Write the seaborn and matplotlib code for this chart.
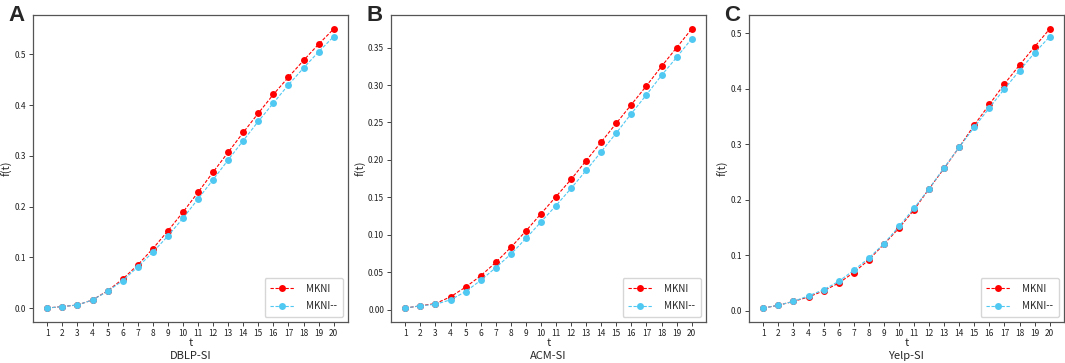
import numpy as np
import pandas as pd
import matplotlib.pyplot as plt
import seaborn as sns

t = list(range(1, 21))

# DBLP-SI
dblp_mkni = [0.000, 0.003, 0.006, 0.016, 0.034, 0.057, 0.085, 0.117, 0.152, 0.189,
             0.228, 0.268, 0.307, 0.346, 0.384, 0.421, 0.455, 0.488, 0.520, 0.550]
dblp_mkni2 = [0.000, 0.003, 0.006, 0.016, 0.033, 0.054, 0.081, 0.110, 0.142, 0.177,
              0.215, 0.253, 0.292, 0.330, 0.368, 0.404, 0.440, 0.473, 0.505, 0.535]
# ACM-SI
acm_mkni = [0.002, 0.005, 0.008, 0.017, 0.030, 0.045, 0.063, 0.083, 0.105, 0.128,
            0.151, 0.174, 0.199, 0.224, 0.249, 0.274, 0.299, 0.325, 0.350, 0.375]
acm_mkni2 = [0.002, 0.005, 0.007, 0.013, 0.024, 0.039, 0.056, 0.074, 0.095, 0.117,
             0.139, 0.162, 0.186, 0.211, 0.236, 0.262, 0.287, 0.313, 0.337, 0.362]
# Yelp-SI
yelp_mkni = [0.005, 0.010, 0.017, 0.025, 0.036, 0.050, 0.069, 0.092, 0.120, 0.149,
             0.182, 0.220, 0.257, 0.295, 0.335, 0.372, 0.409, 0.443, 0.476, 0.508]
yelp_mkni2 = [0.005, 0.010, 0.017, 0.027, 0.038, 0.053, 0.073, 0.095, 0.121, 0.152,
              0.185, 0.220, 0.258, 0.295, 0.331, 0.366, 0.400, 0.433, 0.465, 0.494]

panels = [("A", "DBLP-SI", dblp_mkni, dblp_mkni2),
          ("B", "ACM-SI", acm_mkni, acm_mkni2),
          ("C", "Yelp-SI", yelp_mkni, yelp_mkni2)]
series_names = ["MKNI", "MKNI--"]
colors = {"MKNI": "#ff0000", "MKNI--": "#4fc8f2"}

sns.set_style("ticks")
plt.rcParams['font.family'] = ['Noto Sans CJK SC', 'DejaVu Sans']

fig = plt.figure(figsize=(10.65, 3.63), dpi=100)
lefts = [33, 391, 749]
width = 315
for (letter, name, a, b), left in zip(panels, lefts):
    ax = fig.add_axes([left / 1065, (363 - 322) / 363, width / 1065, 307 / 363])
    df = pd.DataFrame({"t": t * 2, "f": a + b,
                       "model": [series_names[0]] * 20 + [series_names[1]] * 20})
    sns.lineplot(data=df, x="t", y="f", hue="model", palette=colors, ax=ax,
                 marker="o", markersize=5, markeredgewidth=0,
                 dashes=False, linewidth=0.8)
    for line in ax.lines:
        line.set_dashes((3, 1.5))
    ax.set_xticks(t)
    ax.tick_params(labelsize=6, length=3, width=0.6, pad=2, colors="#222222")
    ax.set_xlabel("t", fontsize=8, labelpad=0)
    ax.set_ylabel("f(t)", fontsize=8, labelpad=1)
    ax.text(0.5, -0.095, name, transform=ax.transAxes, fontsize=8,
            ha="center", va="top")
    for s in ax.spines.values():
        s.set_color("#555555")
        s.set_linewidth(0.9)
    leg = ax.legend(loc="lower right", fontsize=7, frameon=True, fancybox=True,
                    handlelength=2.5, borderpad=0.6, labelspacing=0.8,
                    handletextpad=1.2)
    leg.get_frame().set_edgecolor("#cccccc")
    for h in leg.legend_handles:
        h.set_dashes((3, 1.5))
    fig.text((left - 25) / 1065, 0.985, letter, fontsize=16, fontweight="bold",
             family="Liberation Sans", va="top", ha="left")

fig.savefig("out.png", dpi=100)
